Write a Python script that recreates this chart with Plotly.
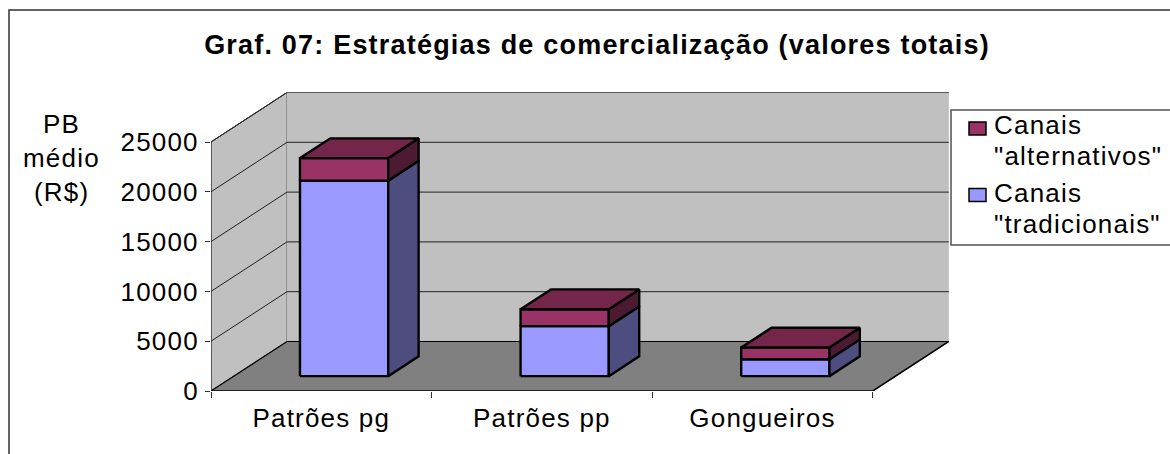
import plotly.graph_objects as go

categories = ["Patrões pg", "Patrões pp", "Gongueiros"]
tradicionais = [19630, 5020, 1700]
alternativos = [2260, 1700, 1170]
y_ticks = [0, 5000, 10000, 15000, 20000, 25000]
series_lines = [['Canais', '"alternativos"'], ['Canais', '"tradicionais"']]

W, H = 1170, 454
FONT = "Liberation Sans, Arial, sans-serif"
X0, X_BACK, Y0, Y_BACK = 211, 949, 391, 92.5
CAT_PX, VAL_PX = 220.6, 249 / 25000
DX = 76 / CAT_PX           # horizontal shift of full depth, in category units
DY = 49.5 / VAL_PX         # vertical shift of full depth, in value units
TOP = max(y_ticks)
N = len(categories)
BLACK = "#000000"


def sp(t, ls=1.2):
    return f'<span style="letter-spacing:{ls}px">{t}</span>'


def proj(cat, val, depth):
    return cat + depth * DX, val + depth * DY


def poly(points, fill, line=BLACK, width=1.0, closed=True):
    xy = [proj(*p) for p in points]
    if closed:
        xy.append(xy[0])
    return go.Scatter(
        x=[p[0] for p in xy], y=[p[1] for p in xy], mode="lines",
        fill="toself" if fill else None, fillcolor=fill,
        line=dict(color=line, width=width), hoverinfo="skip", showlegend=False,
    )


fig = go.Figure()
# walls and floor
fig.add_trace(poly([(0, 0, 0), (0, TOP, 0), (0, TOP, 1), (0, 0, 1)], "#C0C0C0", "#404040", 1))
fig.add_trace(poly([(0, 0, 1), (0, TOP, 1), (N, TOP, 1), (N, 0, 1)], "#C0C0C0", "#C0C0C0", 0.5))
fig.add_trace(poly([(0, 0, 0), (N, 0, 0), (N, 0, 1), (0, 0, 1)], "#808080", "#808080", 0.5))
# gridlines
for v in y_ticks[1:]:
    fig.add_trace(poly([(0, v, 0), (0, v, 1), (N, v, 1)], None, "#202020", 1, closed=False))
# floor edges
fig.add_trace(poly([(0, 0, 0), (0, 0, 1), (N, 0, 1)], None, BLACK, 1.2, closed=False))
fig.add_trace(poly([(0, 0, 0), (N, 0, 0), (N, 0, 1)], None, BLACK, 1.5, closed=False))
fig.add_trace(poly([(0, 0, 0), (0, TOP, 0), (0, TOP, 1), (N, TOP, 1)], None, "#303030", 1, closed=False))


# stacked bars
def box(i, lo, hi, front, side, top=None):
    a, b = i + 0.3, i + 0.7
    d0, d1 = 0.3, 0.7
    fig.add_trace(poly([(a, lo, d0), (b, lo, d0), (b, hi, d0), (a, hi, d0)], front, BLACK, 2.4))
    fig.add_trace(poly([(b, lo, d0), (b, lo, d1), (b, hi, d1), (b, hi, d0)], side, BLACK, 2.4))
    if top:
        fig.add_trace(poly([(a, hi, d0), (b, hi, d0), (b, hi, d1), (a, hi, d1)], top, BLACK, 2.4))


for i in range(N):
    t, s = tradicionais[i], tradicionais[i] + alternativos[i]
    box(i, 0, t, "#9999FF", "#4D4D80")
    box(i, t, s, "#993366", "#4D1A33", "#732649")

fig.update_layout(
    width=W, height=H, autosize=False, margin=dict(l=0, r=0, t=0, b=0, pad=0, autoexpand=False),
    paper_bgcolor="#FFFFFF", plot_bgcolor="rgba(0,0,0,0)", showlegend=False,
    font=dict(family=FONT, size=26, color="#000000"),
    title=dict(
        text=sp("<b>Graf. 07: Estratégias de comercialização (valores totais)</b>"),
        x=597 / W, xref="container", xanchor="center",
        y=1 - 45 / H, yref="container", yanchor="middle", automargin=False,
        font=dict(family=FONT, size=27, color="#000000"),
    ),
    xaxis=dict(
        domain=[X0 / W, X_BACK / W], range=[0, (X_BACK - X0) / CAT_PX], automargin=False,
        showgrid=False, zeroline=False, showline=False,
        tickmode="array", tickvals=[i + 0.5 for i in range(N)],
        ticktext=[sp(c) for c in categories],
        ticks="", ticklabelstandoff=9,
        minor=dict(tickmode="array", tickvals=list(range(N + 1)), ticks="outside",
                   ticklen=6, tickwidth=1, tickcolor="#303030", showgrid=False),
    ),
    yaxis=dict(
        domain=[1 - Y0 / H, 1 - Y_BACK / H], range=[0, (Y0 - Y_BACK) / VAL_PX], automargin=False,
        showgrid=False, zeroline=False, showline=False,
        tickmode="array", tickvals=y_ticks, ticktext=[sp(v) for v in y_ticks],
        ticks="outside", ticklen=5, tickwidth=1, tickcolor="#303030",
        ticklabelstandoff=1,
    ),
)


def px_x(x):
    return x / W


def px_y(y):
    return 1 - y / H


# outer frame and legend box
fig.add_shape(type="rect", xref="paper", yref="paper", x0=px_x(9), x1=1.02, y0=-0.02, y1=px_y(10),
              line=dict(color="#303030", width=1.5), layer="below")
fig.add_shape(type="rect", xref="paper", yref="paper", x0=px_x(951), x1=1.02, y0=px_y(245), y1=px_y(110),
              fillcolor="#FFFFFF", line=dict(color="#505050", width=1.5))
# legend swatches
for (top_px, col) in [(122, "#993366"), (188.5, "#9999FF")]:
    fig.add_shape(type="rect", xref="paper", yref="paper", x0=px_x(969), x1=px_x(986),
                  y0=px_y(top_px + 13), y1=px_y(top_px), fillcolor=col,
                  line=dict(color="#000000", width=1.5))
# legend text
for lines, ys in zip(series_lines, [(125, 156), (193, 223.5)]):
    for line, cy in zip(lines, ys):
        fig.add_annotation(text=sp(line), xref="paper", yref="paper", x=px_x(992), y=px_y(cy),
                           xanchor="left", yanchor="middle", align="left", showarrow=False,
                           font=dict(family=FONT, size=26, color="#000000"))
# axis title
for line, cy in zip(["PB", "médio", "(R$)"], [124, 158, 192]):
    fig.add_annotation(text=sp(line), xref="paper", yref="paper", x=px_x(61), y=px_y(cy),
                       xanchor="center", yanchor="middle", align="center", showarrow=False,
                       font=dict(family=FONT, size=26, color="#000000"))

fig.write_html("out.html", config={"displayModeBar": False},
               post_script="document.body.style.margin='0';")
